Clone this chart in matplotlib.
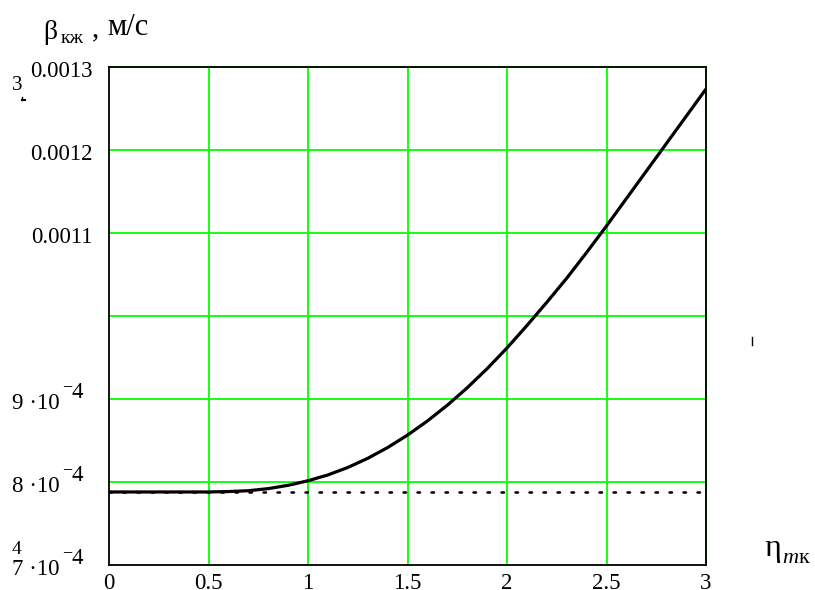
import matplotlib
matplotlib.use("Agg")
import matplotlib.pyplot as plt
import matplotlib.transforms as mtransforms
from matplotlib.lines import Line2D

plt.rcParams['font.family'] = ['Liberation Serif', 'DejaVu Serif']
plt.rcParams['mathtext.fontset'] = 'custom'
plt.rcParams['mathtext.rm'] = 'Liberation Serif'
plt.rcParams['mathtext.it'] = 'Liberation Serif:italic'

# eta_mk values and the corresponding beta_kzh (m/s)
eta = [0.0, 0.1, 0.2, 0.3, 0.4, 0.5, 0.6, 0.7, 0.8, 0.9, 1.0,
       1.1, 1.2, 1.3, 1.4, 1.5, 1.6, 1.7, 1.8, 1.9, 2.0,
       2.1, 2.2, 2.3, 2.4, 2.5, 2.6, 2.7, 2.8, 2.9, 3.0]
beta = [7.88e-4, 7.88e-4, 7.88e-4, 7.88e-4, 7.88e-4, 7.88e-4, 7.885e-4, 7.895e-4,
        7.92e-4, 7.96e-4, 8.015e-4, 8.085e-4, 8.175e-4, 8.285e-4, 8.415e-4, 8.565e-4,
        8.735e-4, 8.925e-4, 9.135e-4, 9.365e-4, 9.615e-4, 9.885e-4, 1.0165e-3,
        1.0455e-3, 1.0765e-3, 1.1085e-3, 1.1415e-3, 1.1745e-3, 1.2075e-3,
        1.2405e-3, 1.2735e-3]

# constant reference level
beta_ref = 7.88e-4
eta_ref = [0.0, 3.0]

xticks = [0, 0.5, 1, 1.5, 2, 2.5, 3]
xtick_labels = ["0", "0.5", "1", "1.5", "2", "2.5", "3"]
yticks = [7e-4, 8e-4, 9e-4, 1.0e-3, 1.1e-3, 1.2e-3, 1.3e-3]
ytick_labels = ["7 ·10^−4", "8 ·10^−4", "9 ·10^−4", "",
                "0.0011", "0.0012", "0.0013"]

W, H = 815, 590
fig = plt.figure(figsize=(W / 100, H / 100), dpi=100)
ax = fig.add_axes([109 / W, 25 / H, 597 / W, 498 / H])

ax.set_xlim(0, 3)
ax.set_ylim(7e-4, 1.3e-3)

green = '#12ff12'
for xv in xticks[1:]:
    ax.axvline(xv, color=green, lw=1.4, zorder=1, clip_on=False)
for yv in yticks[1:]:
    ax.axhline(yv, color=green, lw=1.4, zorder=1, clip_on=False)

ax.plot(eta_ref, [beta_ref, beta_ref], color='black', lw=1.8,
        linestyle=(0, (1, 4.6)), dash_capstyle='round', zorder=3)
ax.plot(eta, beta, color='black', lw=2.3, zorder=4, solid_capstyle='butt')

for s in ax.spines.values():
    s.set_color('black')
    s.set_linewidth(1.3)
    s.set_zorder(2)

ax.set_xticks(xticks, xtick_labels)
ax.tick_params(axis='x', length=0, pad=6, labelsize=16.5)
ax.set_yticks([])

# y tick labels, placed beside each gridline
def ax_x(px):
    return (px - 109) / 597

base = mtransforms.blended_transform_factory(ax.transAxes, ax.transData)

def shifted(dy):
    return mtransforms.offset_copy(base, fig=fig, y=dy, units='dots')

for yv, lab in zip(yticks, ytick_labels):
    if not lab:
        continue
    if '^' in lab:
        mant, expo = lab.split('^')
        ax.text(ax_x(60), yv, mant, transform=shifted(-10), ha='right',
                va='baseline', fontsize=16.5, clip_on=False)
        ax.text(ax_x(62), yv, expo[0], transform=shifted(8), ha='left',
                va='baseline', fontsize=13, clip_on=False)
        ax.text(ax_x(72), yv, expo[1:], transform=shifted(1), ha='left',
                va='baseline', fontsize=16.5, clip_on=False)
    else:
        ax.text(ax_x(93), yv, lab, transform=shifted(-10), ha='right',
                va='baseline', fontsize=16.5, clip_on=False)

# axis titles
def fx(px):
    return px / W

def fy(py):
    return 1 - py / H

fig.text(fx(43), fy(39), "β", fontsize=20, va='baseline', ha='left')
fig.text(fx(61), fy(43), "кж", fontsize=14, va='baseline', ha='left')
fig.text(fx(92), fy(36), ",", fontsize=21, va='baseline', ha='left')
fig.text(fx(107), fy(35), "м/с", fontsize=22, va='baseline', ha='left')

fig.text(fx(764), fy(556), "η", fontsize=23, va='baseline', ha='left')
fig.text(fx(782), fy(563), "$\\mathit{m}$к", fontsize=16, va='baseline', ha='left')

# leftover marks around the axes
fig.text(fx(12), fy(90), "3", fontsize=15, va='baseline', ha='left')
fig.text(fx(12), fy(554), "4", fontsize=14, va='baseline', ha='left')
fig.add_artist(Line2D([fx(22), fx(25)], [fy(100), fy(100)], color='black', lw=1.5))
fig.add_artist(Line2D([fx(22), fx(22)], [fy(97), fy(100)], color='black', lw=1.0))
fig.add_artist(Line2D([fx(752), fx(752)], [fy(337), fy(345)], color='black', lw=1.0))

fig.savefig("out.png", dpi=100)
